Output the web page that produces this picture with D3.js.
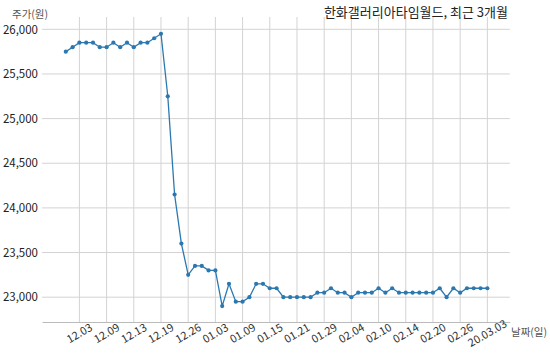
<!DOCTYPE html>
<html><head><meta charset="utf-8">
<script src="https://cdn.jsdelivr.net/npm/d3@7"></script>
<style>body{margin:0;background:#fff}svg{display:block}text{font-family:"Noto Sans CJK KR","Noto Sans",sans-serif}</style>
</head><body><svg id="c" width="550" height="356"></svg>
<script>
const dates = ["11.29","12.02","12.03","12.04","12.05","12.06","12.09","12.10","12.11","12.12","12.13","12.16","12.17","12.18","12.19","12.20","12.23","12.24","12.26","12.27","12.30","01.02","01.03","01.06","01.07","01.08","01.09","01.10","01.13","01.14","01.15","01.16","01.17","01.20","01.21","01.22","01.23","01.28","01.29","01.30","01.31","02.03","02.04","02.05","02.06","02.07","02.10","02.11","02.12","02.13","02.14","02.17","02.18","02.19","02.20","02.21","02.24","02.25","02.26","02.27","02.28","03.02","20.03.03"];
const prices = [25750,25800,25850,25850,25850,25800,25800,25850,25800,25850,25800,25850,25850,25900,25950,25250,24150,23600,23250,23350,23350,23300,23300,22900,23150,22950,22950,23000,23150,23150,23100,23100,23000,23000,23000,23000,23000,23050,23050,23100,23050,23050,23000,23050,23050,23050,23100,23050,23100,23050,23050,23050,23050,23050,23050,23100,23000,23100,23050,23100,23100,23100,23100];
const tickIdx = [2,6,10,14,18,22,26,30,34,38,42,46,50,54,58,62];
const yTicks = [23000,23500,24000,24500,25000,25500,26000];
const title = "한화갤러리아타임월드, 최근 3개월";
const yLabel = "주가(원)";
const xLabel = "날짜(일)";

const svg = d3.select("#c");
const x = d3.scaleLinear().domain([-3.5, 65.3]).range([42, 509.8]);
const y = d3.scaleLinear().domain([22722, 26138]).range([322, 17]);

svg.append("g").selectAll("line").data(yTicks).join("line")
  .attr("x1", 42).attr("x2", 509.8).attr("y1", d => y(d)).attr("y2", d => y(d))
  .attr("stroke", "#d3d3d3").attr("stroke-width", 1);
svg.append("g").selectAll("line").data(tickIdx).join("line")
  .attr("x1", d => x(d)).attr("x2", d => x(d)).attr("y1", 17).attr("y2", 322)
  .attr("stroke", "#d3d3d3").attr("stroke-width", 1);

const xAxis = d3.axisBottom(x).tickValues(tickIdx).tickFormat(i => dates[i]).tickSize(0).tickPadding(0);
const gx = svg.append("g").attr("transform", "translate(0,322)").call(xAxis);
gx.select(".domain").attr("stroke", "#bbb");
gx.selectAll("text").attr("font-size", 11).attr("fill", "#333")
  .attr("text-anchor", "middle").attr("dy", null).attr("y", 0)
  .attr("transform", "translate(0,12) rotate(-30)")
  .attr("dominant-baseline", "middle");

const yAxis = d3.axisLeft(y).tickValues(yTicks).tickFormat(d3.format(",")).tickSize(0).tickPadding(4);
const gy = svg.append("g").attr("transform", "translate(42,0)").call(yAxis);
gy.select(".domain").remove();
gy.selectAll("text").attr("font-size", 11.5).attr("fill", "#222");

const line = d3.line().x((d, i) => x(i)).y(d => y(d));
svg.append("path").datum(prices).attr("d", line).attr("fill", "none")
  .attr("stroke", "#2b78b0").attr("stroke-width", 1.3);
svg.append("g").selectAll("circle").data(prices).join("circle")
  .attr("cx", (d, i) => x(i)).attr("cy", d => y(d)).attr("r", 2.1).attr("fill", "#2b78b0");

svg.append("text").attr("x", 508).attr("y", 17).attr("text-anchor", "end")
  .attr("font-size", 13).attr("fill", "#222").text(title);
svg.append("text").attr("x", 12).attr("y", 18).attr("font-size", 10.5).attr("fill", "#555").text(yLabel);
svg.append("text").attr("x", 511).attr("y", 336).attr("font-size", 10.5).attr("fill", "#555").text(xLabel);
</script></body></html>
